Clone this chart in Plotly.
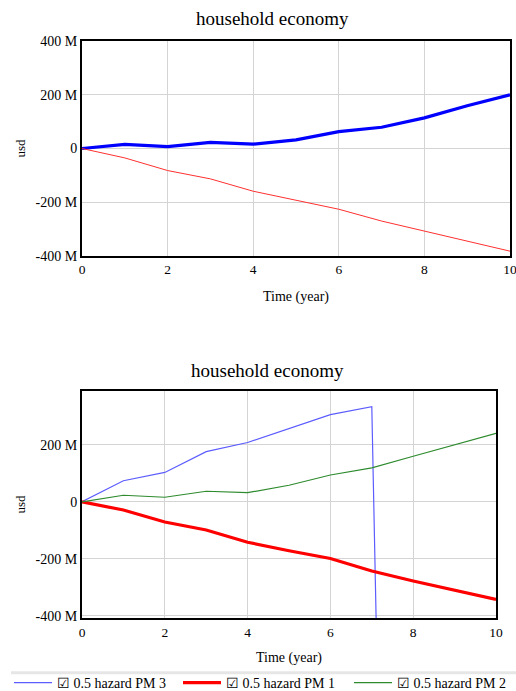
import plotly.graph_objects as go

W, H = 516, 691

# ---- data ----
time = [0, 1, 2, 3, 4, 5, 6, 7, 8, 9, 10]
top_blue = [0, 15, 7, 23, 16, 32, 63, 79, 114, 159, 200]
top_red = [0, -35, -82, -113, -159, -193, -226, -270, -308, -345, -382]

pm3 = [0, 74, 103, 176, 208, 257, 306, 334, -6800, None, None]
pm1 = [0, -29, -71, -99, -142, -172, -199, -243, -278, -310, -343]
pm2 = [0, 23, 16, 37, 32, 58, 94, 119, 160, 200, 240]

x_ticks = [0, 2, 4, 6, 8, 10]
top_y_ticks = [400, 200, 0, -200, -400]
top_y_text = ["400 M", "200 M", "0", "-200 M", "-400 M"]
bot_y_ticks = [200, 0, -200, -400]
bot_y_text = ["200 M", "0", "-200 M", "-400 M"]

FONT = "Liberation Serif, Times New Roman, serif"

def py(px):
    return 1 - px / H

fig = go.Figure()

fig.add_trace(go.Scatter(x=time, y=top_blue, mode="lines", line=dict(color="#0000ff", width=3.2),
                         xaxis="x", yaxis="y", showlegend=False))
fig.add_trace(go.Scatter(x=time, y=top_red, mode="lines", line=dict(color="#ff3030", width=1),
                         xaxis="x", yaxis="y", showlegend=False))

fig.add_trace(go.Scatter(x=time, y=pm3, mode="lines", line=dict(color="#5c5cff", width=1.2),
                         xaxis="x2", yaxis="y2", name="\u2611 0.5 hazard PM 3", legend="legend"))
fig.add_trace(go.Scatter(x=time, y=pm1, mode="lines", line=dict(color="#ff0000", width=3.2),
                         xaxis="x2", yaxis="y2", name="\u2611 0.5 hazard PM 1", legend="legend2"))
fig.add_trace(go.Scatter(x=time, y=pm2, mode="lines", line=dict(color="#2e8b2e", width=1.2),
                         xaxis="x2", yaxis="y2", name="\u2611 0.5 hazard PM 2", legend="legend3"))

common_axis = dict(showline=True, linecolor="black", linewidth=2, mirror=True, automargin=False,
                   showgrid=True, gridcolor="#d4d4d4", gridwidth=1, zeroline=False,
                   ticks="")
xfont = dict(family=FONT, size=13.5, color="black")
yfont = dict(family=FONT, size=14, color="black")

def leg(x0):
    return dict(orientation="h", x=x0 / W, xanchor="left", xref="paper",
                y=py(683), yanchor="middle", yref="paper",
                font=dict(family=FONT, size=14, color="black"), itemwidth=38,
                bgcolor="rgba(0,0,0,0)", borderwidth=0,
                itemclick=False, itemdoubleclick=False)

fig.update_layout(
    width=W, height=H,
    margin=dict(l=0, r=0, t=0, b=0, autoexpand=False),
    paper_bgcolor="white", plot_bgcolor="white",
    font=dict(family=FONT, color="black"),
    xaxis=dict(domain=[82 / W, 510 / W], range=[0, 10], tickvals=x_ticks, anchor="y", tickfont=xfont,
               ticklabeloverflow="allow",
               title=dict(text="Time (year)", font=dict(size=14), standoff=15), **common_axis),
    yaxis=dict(domain=[py(256), py(41)], range=[-400, 400], tickvals=top_y_ticks, ticktext=top_y_text,
               anchor="x", tickfont=yfont,
               title=dict(text="usd", font=dict(size=13), standoff=7), **common_axis),
    xaxis2=dict(domain=[82 / W, 496 / W], range=[0, 10], tickvals=x_ticks, anchor="y2", tickfont=xfont,
                ticklabeloverflow="allow",
                title=dict(text="Time (year)", font=dict(size=14), standoff=14), **common_axis),
    yaxis2=dict(domain=[py(618.3), py(390.7)], range=[-409, 390], tickvals=bot_y_ticks, ticktext=bot_y_text,
                anchor="x2", tickfont=yfont,
                title=dict(text="usd", font=dict(size=13), standoff=7), **common_axis),
    showlegend=True,
    legend=leg(9),
    legend2=leg(178),
    legend3=leg(349),
    annotations=[
        dict(text="household economy", x=272 / W, y=py(18), xref="paper", yref="paper",
             showarrow=False, font=dict(family=FONT, size=19, color="black"), xanchor="center", yanchor="middle"),
        dict(text="household economy", x=267 / W, y=py(370), xref="paper", yref="paper",
             showarrow=False, font=dict(family=FONT, size=19, color="black"), xanchor="center", yanchor="middle"),
    ],
    shapes=[
        dict(type="line", xref="paper", yref="paper", x0=11 / W, x1=1, y0=py(672.7), y1=py(672.7),
             line=dict(color="#e6e6e6", width=3)),
    ],
)

fig.write_html("out.html", config={"displayModeBar": False},
               post_script="document.body.style.margin='0';document.body.style.overflow='hidden';")
